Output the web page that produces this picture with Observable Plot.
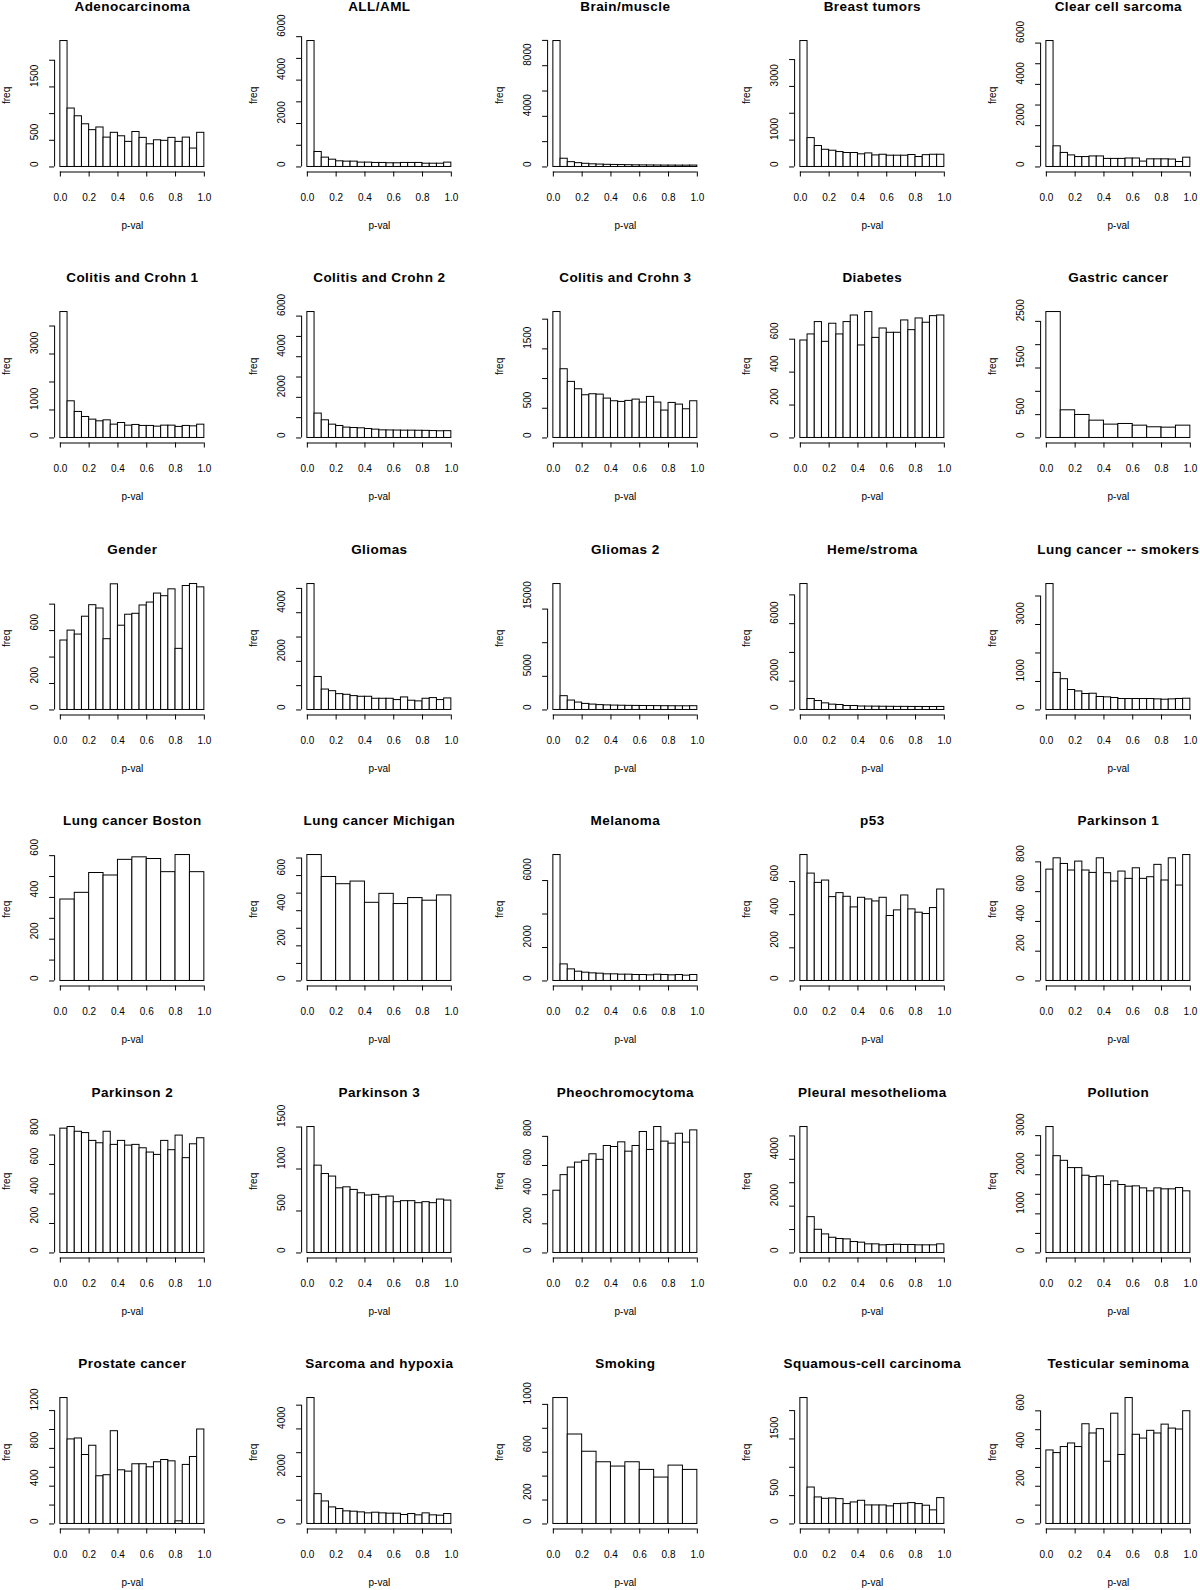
<!DOCTYPE html>
<html><head><meta charset="utf-8">
<script src="https://cdn.jsdelivr.net/npm/d3@7"></script>
<script src="https://cdn.jsdelivr.net/npm/@observablehq/plot@0.6"></script>
<style>
html,body{margin:0;padding:0;background:#fff;overflow:hidden;}
#grid{position:relative;width:1200px;height:1590px;overflow:hidden;background:#fff;}
.panel{position:absolute;width:247px;height:272px;}
.panel svg{max-width:none !important;display:block;}
g[font-weight="bold"] text{letter-spacing:0.45px;}
</style></head>
<body><div id="grid"></div>
<script>
const titles = ["Adenocarcinoma","ALL/AML","Brain/muscle","Breast tumors","Clear cell sarcoma",
"Colitis and Crohn 1","Colitis and Crohn 2","Colitis and Crohn 3","Diabetes","Gastric cancer",
"Gender","Gliomas","Gliomas 2","Heme/stroma","Lung cancer -- smokers",
"Lung cancer Boston","Lung cancer Michigan","Melanoma","p53","Parkinson 1",
"Parkinson 2","Parkinson 3","Pheochromocytoma","Pleural mesothelioma","Pollution",
"Prostate cancer","Sarcoma and hypoxia","Smoking","Squamous-cell carcinoma","Testicular seminoma"];

const adenocarcinoma = [2360,1095,950,800,690,740,550,640,575,470,655,545,425,500,490,545,470,550,345,640];
const allAml = [5800,690,430,335,260,245,245,200,200,185,185,170,170,185,185,185,150,150,150,200];
const brainMuscle = [9950,650,380,300,250,210,190,170,160,150,140,130,125,120,115,110,110,105,105,110];
const breastTumors = [4690,1075,780,640,605,555,520,520,470,505,430,455,420,420,420,445,370,440,455,455];
const clearCell = [6100,1000,680,560,480,480,510,510,390,390,390,410,410,260,370,370,370,360,240,450];
const colitis1 = [4500,1310,930,750,655,595,630,476,535,440,465,430,430,405,440,440,395,430,415,475];
const colitis2 = [6200,1200,870,655,590,510,490,475,440,410,375,370,365,360,360,355,350,340,330,335];
const colitis3 = [2120,1157,944,820,719,736,730,663,618,607,624,646,596,691,596,461,590,562,483,618];
const diabetes = [592,629,704,584,694,629,704,744,562,765,608,665,639,639,714,655,726,700,740,744];
const gastric = [2700,593,493,371,286,300,264,229,221,264];
const gender = [525,600,570,705,792,767,535,950,637,720,727,790,812,880,860,912,462,937,952,927];
const gliomas = [5180,1357,840,773,651,624,570,543,543,461,461,461,407,516,380,353,461,488,407,475];
const gliomas2 = [18725,2050,1400,1100,900,800,720,680,650,630,610,600,590,580,570,560,555,550,545,560];
const heme = [8755,760,620,460,370,345,275,275,240,235,230,225,220,215,215,210,210,205,205,210];
const lungSmokers = [4420,1300,1080,700,650,560,570,455,442,420,384,384,384,384,384,372,360,372,384,395];
const lungBoston = [390,422,517,505,580,592,584,521,603,521];
const lungMichigan = [717,592,551,566,445,496,438,472,457,487];
const melanoma = [7525,990,693,554,495,455,435,396,396,376,376,356,356,336,376,356,336,356,317,356];
const p53 = [760,648,592,606,506,530,508,444,502,492,480,502,392,426,516,432,412,404,440,552];
const parkinson1 = [748,824,786,742,802,742,726,824,724,668,735,686,757,686,697,780,675,824,641,846];
const parkinson2 = [843,854,822,813,760,744,822,733,760,728,733,710,681,665,760,697,796,643,737,778];
const parkinson3 = [1500,1040,940,910,770,782,751,711,684,692,664,672,605,617,617,593,605,593,636,624];
const pheo = [427,534,586,620,632,677,639,734,727,759,695,734,830,707,864,764,750,818,757,841];
const pleural = [5380,1530,990,793,650,595,580,467,440,368,368,326,340,354,340,340,326,326,326,368];
const pollution = [3220,2475,2356,2170,2170,1975,1940,1958,1737,1830,1737,1695,1703,1652,1576,1652,1627,1627,1660,1576];
const prostate = [1333,895,905,730,828,505,516,982,568,554,632,632,600,653,677,663,28,625,709,1000];
const sarcoma = [5300,1255,948,697,628,530,516,488,446,474,446,432,432,377,418,363,446,363,349,418];
const smoking = [1053,748,604,516,480,516,452,388,488,452];
const squamous = [2222,643,468,444,450,438,351,380,409,327,327,327,310,351,357,368,351,322,240,456];
const testicular = [390,376,408,427,408,529,480,503,330,585,366,668,473,453,494,480,527,506,501,598];

const series = [adenocarcinoma, allAml, brainMuscle, breastTumors, clearCell,
  colitis1, colitis2, colitis3, diabetes, gastric,
  gender, gliomas, gliomas2, heme, lungSmokers,
  lungBoston, lungMichigan, melanoma, p53, parkinson1,
  parkinson2, parkinson3, pheo, pleural, pollution,
  prostate, sarcoma, smoking, squamous, testicular];

const yTickSteps = [500,1000,2000,1000,1000, 1000,1000,500,200,500, 200,1000,5000,2000,1000,
  100,100,2000,200,200, 200,500,200,1000,500, 200,1000,200,500,100];

const yTickLabels = [
  [0,500,1500],[0,2000,4000,6000],[0,4000,8000],[0,1000,3000],[0,2000,4000,6000],
  [0,1000,3000],[0,2000,4000,6000],[0,500,1500],[0,200,400,600],[0,500,1500,2500],
  [0,200,600],[0,2000,4000],[0,5000,15000],[0,2000,6000],[0,1000,3000],
  [0,200,400,600],[0,200,400,600],[0,2000,6000],[0,200,400,600],[0,200,400,600,800],
  [0,200,400,600,800],[0,500,1000,1500],[0,200,400,600,800],[0,2000,4000],[0,1000,2000,3000],
  [0,400,800,1200],[0,2000,4000],[0,200,600,1000],[0,500,1500],[0,200,400,600]];

const xTicks = [0, 0.2, 0.4, 0.6, 0.8, 1.0];
const xLabel = "p-val", yLabel = "freq";

const grid = document.getElementById("grid");
const fmt1 = d3.format(".1f");
const FONT = "'Liberation Sans', Arial, Helvetica, sans-serif";

titles.forEach((title, i) => {
  const counts = series[i];
  const n = counts.length;
  const bins = counts.map((c, j) => ({x1: j / n, x2: (j + 1) / n, c}));
  const M = d3.max(counts);
  const step = yTickSteps[i];
  const top = Math.floor(1.04 * M / step) * step;
  const yTicks = d3.range(0, top + step / 2, step);
  const col = i % 5, row = Math.floor(i / 5);
  const yMin = -0.04 * M;

  const svg = Plot.plot({
    width: 247, height: 271.5,
    marginLeft: 54.1, marginRight: 37.4, marginTop: 35.5, marginBottom: 100,
    x: {domain: [-0.04, 1.04]},
    y: {domain: [yMin, 1.04 * M]},
    style: {fontFamily: FONT, fontSize: "10px", background: "transparent", color: "black", overflow: "visible"},
    marks: [
      Plot.rectY(bins, {x1: "x1", x2: "x2", y1: 0, y2: "c", fill: "white", stroke: "black", strokeWidth: 1}),
      Plot.ruleY([yMin], {x1: 0, x2: 1, stroke: "black"}),
      Plot.ruleX([-0.04], {y1: 0, y2: top, stroke: "black"}),
      Plot.axisX(xTicks, {tickSize: 5, tickFormat: () => "", label: null}),
      Plot.axisY(yTicks, {tickSize: 5, tickFormat: () => "", label: null}),
      Plot.text(xTicks, {x: d => d, frameAnchor: "bottom", dy: 28.5, text: d => fmt1(d), fontSize: 10}),
      Plot.text(yTickLabels[i], {y: d => d, frameAnchor: "left", dx: -20, rotate: -90, text: d => String(d), fontSize: 10}),
      Plot.text([xLabel], {x: 0.5, frameAnchor: "bottom", dy: 56.5, fontSize: 10}),
      Plot.text([yLabel], {frameAnchor: "left", dx: -48, rotate: -90, fontSize: 10}),
      Plot.text([title], {x: 0.5, frameAnchor: "top", dy: -34.5, fontWeight: "bold", fontSize: 13.5})
    ]
  });
  const div = document.createElement("div");
  div.className = "panel";
  div.style.left = (246.5 * col) + "px";
  div.style.top = (271.45 * row) + "px";
  div.appendChild(svg);
  grid.appendChild(div);
});
</script>
</body></html>
